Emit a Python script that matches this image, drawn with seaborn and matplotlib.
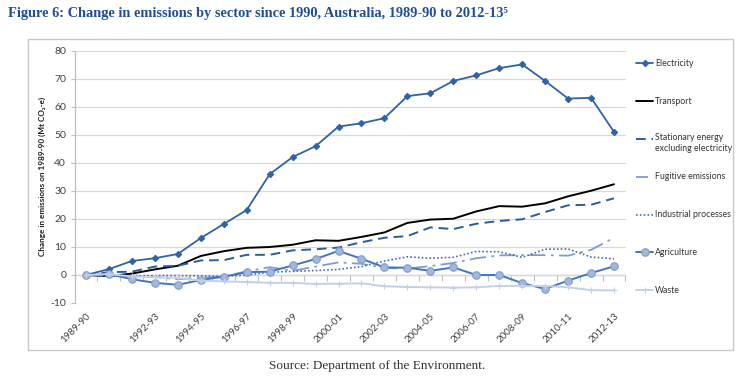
import numpy as np
import pandas as pd
import matplotlib
matplotlib.use("Agg")
import matplotlib.pyplot as plt
import seaborn as sns
from matplotlib.lines import Line2D
from matplotlib.patches import Rectangle

# ---------------- data ----------------
years = ["1989-90", "1990-91", "1991-92", "1992-93", "1993-94", "1994-95",
         "1995-96", "1996-97", "1997-98", "1998-99", "1999-00", "2000-01",
         "2001-02", "2002-03", "2003-04", "2004-05", "2005-06", "2006-07",
         "2007-08", "2008-09", "2009-10", "2010-11", "2011-12", "2012-13"]
tick_labels = ["1989-90", "", "", "1992-93", "", "1994-95", "", "1996-97", "",
               "1998-99", "", "2000-01", "", "2002-03", "", "2004-05", "",
               "2006-07", "", "2008-09", "", "2010-11", "", "2012-13"]

electricity = [0, 2.1, 5.0, 6.0, 7.5, 13.2, 18.2, 23.2, 36.0, 42.1, 46.0, 53.0,
               54.2, 56.0, 63.9, 64.9, 69.3, 71.3, 73.9, 75.2, 69.3, 63.0, 63.3, 51.1]
transport = [0, -0.4, 0.5, 2.0, 3.3, 6.8, 8.5, 9.7, 10.0, 10.8, 12.4, 12.2,
             13.6, 15.2, 18.6, 19.8, 20.1, 22.7, 24.6, 24.4, 25.6, 28.1, 30.1, 32.4]
stationary = [0, 1.0, 1.2, 3.0, 3.3, 5.2, 5.3, 7.2, 7.2, 8.8, 9.2, 9.8,
              11.7, 13.3, 13.9, 17.0, 16.4, 18.3, 19.3, 19.9, 22.5, 24.9, 25.1, 27.4]
fugitive = [0, 0.0, -0.5, -0.7, -1.5, -1.0, -0.5, 1.3, 2.8, 1.5, 3.0, 4.5,
            4.0, 2.5, 2.3, 3.2, 4.3, 6.0, 7.0, 7.1, 7.1, 6.9, 9.0, 13.3]
industrial = [0, -0.5, -0.3, -0.2, -0.2, -0.3, -0.5, 0.0, 1.0, 1.3, 1.6, 2.0,
              3.0, 5.0, 6.5, 6.0, 6.3, 8.4, 8.3, 6.3, 9.2, 9.3, 6.4, 5.8]
agriculture = [0, 0.3, -1.5, -2.8, -3.5, -1.8, -0.6, 1.0, 1.2, 3.4, 5.7, 8.6,
               5.8, 2.7, 2.6, 1.5, 2.7, 0.0, 0.0, -2.9, -5.0, -2.0, 0.7, 3.1]
waste = [0, 0.3, -0.5, -0.8, -1.0, -2.0, -2.3, -2.5, -2.8, -2.8, -3.2, -3.1,
         -3.0, -4.0, -4.3, -4.4, -4.5, -4.4, -3.9, -3.9, -3.9, -4.4, -5.4, -5.5]

series_names = ["Electricity", "Transport", "Stationary energy\nexcluding electricity",
                "Fugitive emissions", "Industrial processes", "Agriculture", "Waste"]
series_values = [electricity, transport, stationary, fugitive, industrial,
                 agriculture, waste]

y_ticks = [-10, 0, 10, 20, 30, 40, 50, 60, 70, 80]

# ---------------- styles ----------------
styles = [
    dict(color="#2F62A8", lw=1.3, ls="-", marker="D", ms=3.2, mfc="#2F62A8", mec="#2F62A8"),
    dict(color="#000000", lw=1.4, ls="-", marker=None),
    dict(color="#2B5C9E", lw=1.4, ls=(0, (5, 3)), marker=None),
    dict(color="#7D9DD2", lw=1.3, ls=(0, (9, 3, 1.5, 3)), marker=None),
    dict(color="#4A6DAA", lw=1.2, ls=(0, (1, 1.3)), marker=None),
    dict(color="#4274C0", lw=1.4, ls="-", marker="o", ms=5.4, mfc="#A3B7DB", mec="#7E9CCD"),
    dict(color="#C3D0E8", lw=1.4, ls="-", marker="+", ms=4, mfc="#C3D0E8", mec="#C3D0E8"),
]

sns.set_theme(style="white")
plt.rcParams["font.family"] = ["Lato", "DejaVu Sans"]

W, H = 754, 384
fig = plt.figure(figsize=(W / 100, H / 100), dpi=100)

# chart box
fig.patches.append(Rectangle((28 / W, 1 - 350 / H), (733 - 28) / W, (350 - 39) / H,
                             transform=fig.transFigure, fill=False,
                             edgecolor="#C8C8C8", lw=1.0))

ax = fig.add_axes([74.5 / W, 1 - 303 / H, (625.5 - 74.5) / W, 252 / H])

for name, vals, st in zip(series_names, series_values, styles):
    df = pd.DataFrame({"year": years, "value": vals})
    kw = dict(color=st["color"], linewidth=st["lw"], linestyle=st["ls"])
    if st["marker"]:
        kw.update(marker=st["marker"], markersize=st["ms"],
                  markerfacecolor=st["mfc"], markeredgecolor=st["mec"],
                  markeredgewidth=0.8)
    sns.lineplot(data=df, x="year", y="value", ax=ax, sort=False,
                 legend=False, **kw)

ax.set_xlim(-0.5, len(years) - 0.5)
ax.set_ylim(-10, 80)
ax.set_yticks(y_ticks)
ax.set_yticklabels([str(v) for v in y_ticks], fontsize=7.5, color="#404040")
ax.grid(axis="y", color="#D9D9D9", lw=0.9)
ax.grid(axis="x", visible=False)
ax.set_axisbelow(True)
ax.set_xlabel("")
ax.set_ylabel("")
for s in ["top", "right", "bottom"]:
    ax.spines[s].set_visible(False)
ax.spines["left"].set_color("#BFBFBF")
ax.spines["left"].set_linewidth(0.9)
ax.tick_params(axis="y", length=3, width=0.8, color="#BFBFBF", pad=3, left=True)

ax.set_xticks(range(len(years)))
ax.set_xticklabels(tick_labels, rotation=45, ha="right", va="top",
                   rotation_mode="anchor", fontsize=7, color="#404040")
ax.tick_params(axis="x", length=0, pad=6, bottom=True)

# horizontal category axis crossing at 0
sec = ax.secondary_xaxis(10 / 90)
sec.set_xticks(np.arange(-0.5, len(years), 1.0))
sec.set_xticklabels([])
sec.spines["bottom"].set_color("#BFBFBF")
sec.spines["bottom"].set_linewidth(0.9)
sec.tick_params(axis="x", direction="out", length=4, width=0.8, color="#BFBFBF")

# y axis label
fig.text(42 / W, 1 - 176 / H, "Change in emissions on 1989-90 (Mt CO\u2082-e)",
         rotation=90, ha="center", va="center", fontsize=5.9, fontweight="bold",
         color="#1a1a1a")

# legend (manual layout, Excel style)
for i, (name, st) in enumerate(zip(series_names, styles)):
    yc = 1 - (63.3 + 37.8 * i) / H
    x0, x1 = 636 / W, 653 / W
    if i == 3:
        x1 = 648 / W
    fig.add_artist(Line2D([x0, x1], [yc, yc], transform=fig.transFigure,
                          color=st["color"], lw=st["lw"], ls=st["ls"]))
    if st["marker"]:
        fig.add_artist(Line2D([(x0 + x1) / 2], [yc], transform=fig.transFigure,
                              marker=st["marker"], ms=st["ms"], mfc=st["mfc"],
                              mec=st["mec"], mew=0.8, ls="none"))
    va = "top" if "\n" in name else "center"
    yt = yc + 6 / H if "\n" in name else yc
    fig.text(655 / W, yt, name, ha="left", va=va, fontsize=6.3, color="#333333",
             linespacing=1.35)

# title
fig.text(8 / W, 1 - 14 / H,
         "Figure 6: Change in emissions by sector since 1990, Australia, 1989-90 to 2012-13\u2075",
         ha="left", va="center", fontsize=10.4, fontweight="bold", color="#1F4E96",
         family=["Liberation Serif", "DejaVu Serif"])

# source
fig.text(0.5, 1 - 366 / H, "Source: Department of the Environment.", ha="center",
         va="center", fontsize=9.5, color="#333333",
         family=["Liberation Serif", "DejaVu Serif"])

fig.savefig("out.png", dpi=100)
